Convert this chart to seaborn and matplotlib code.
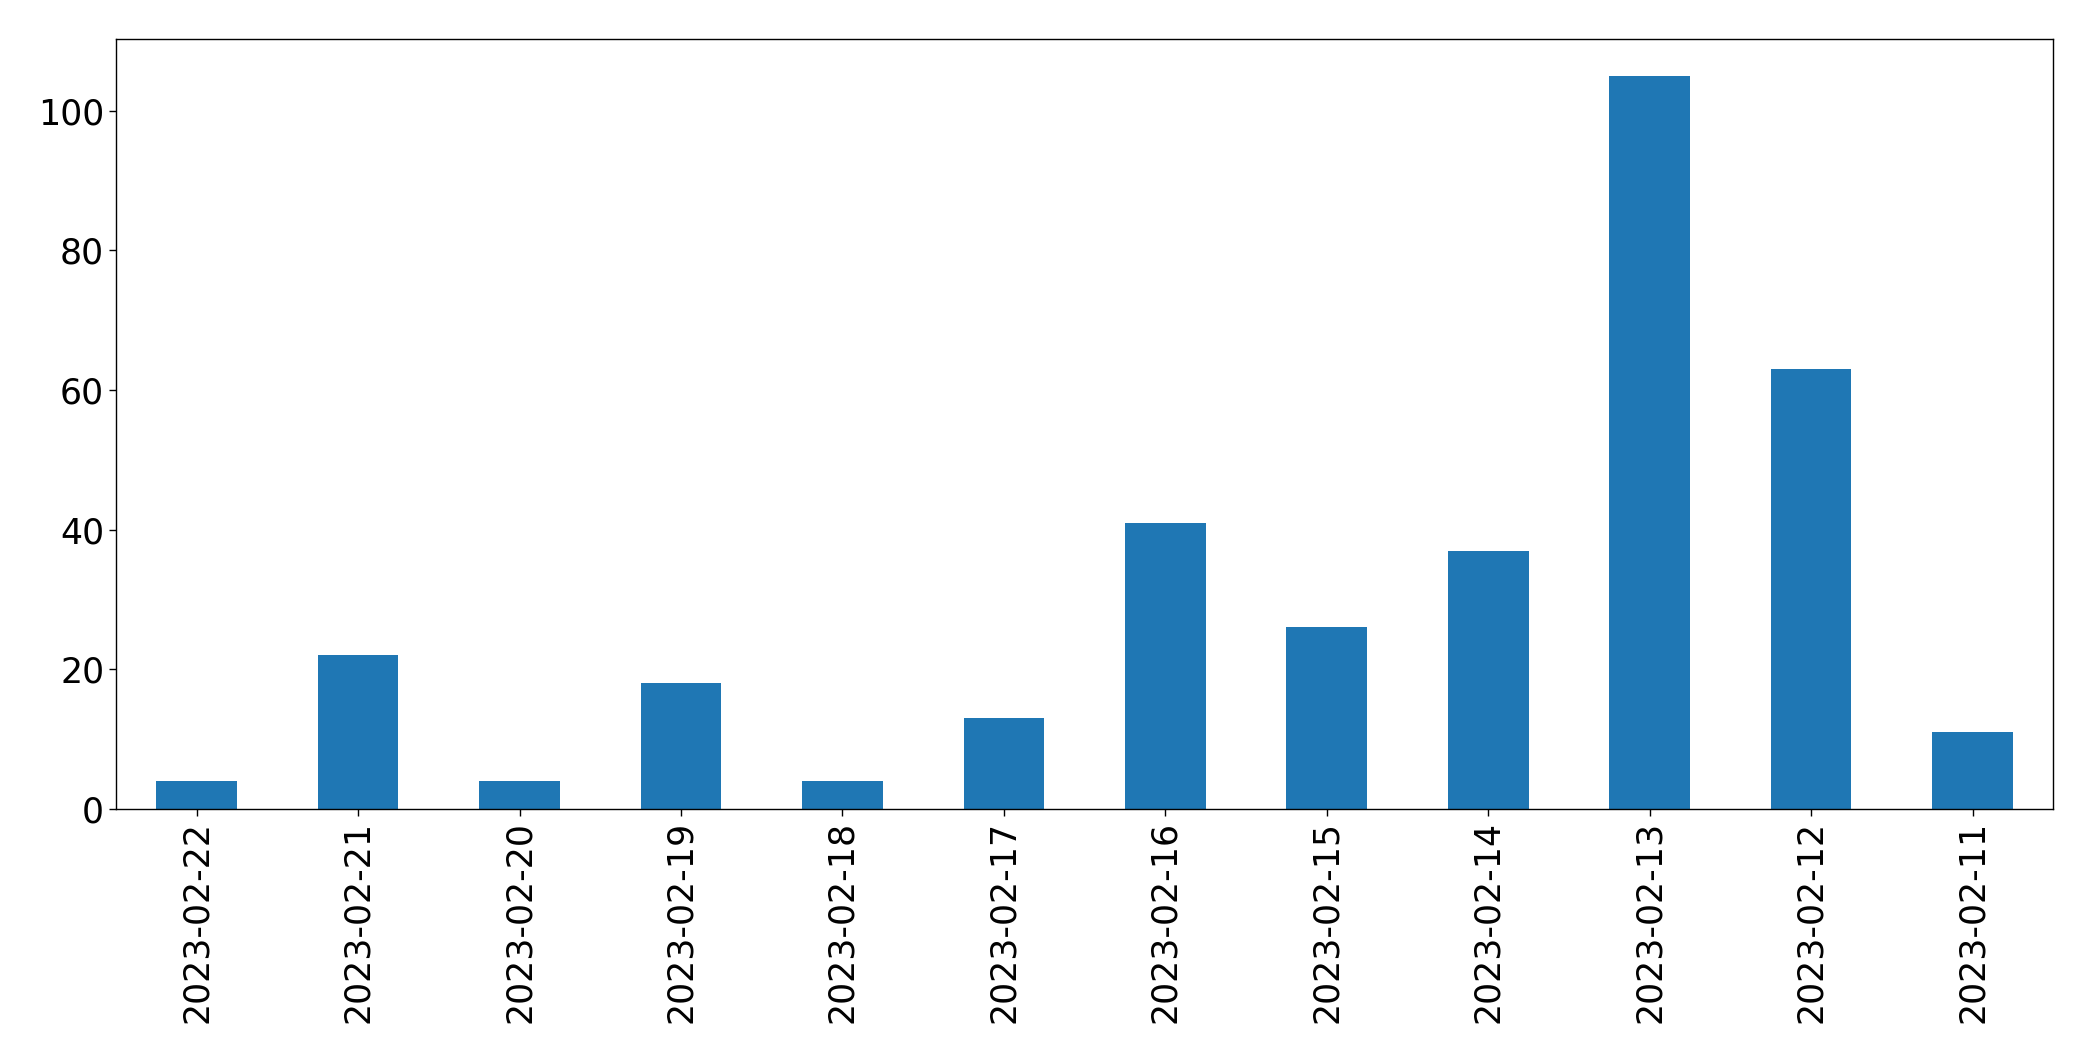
import pandas as pd
import seaborn as sns
import matplotlib
matplotlib.use('Agg')
import matplotlib.pyplot as plt

dates = ['2023-02-22', '2023-02-21', '2023-02-20', '2023-02-19', '2023-02-18', '2023-02-17',
         '2023-02-16', '2023-02-15', '2023-02-14', '2023-02-13', '2023-02-12', '2023-02-11']
counts = [4, 22, 4, 18, 4, 13, 41, 26, 37, 105, 63, 11]

df = pd.DataFrame({'date': dates, 'count': counts})

fig, ax = plt.subplots(figsize=(20.93, 10.61), dpi=100)
sns.barplot(data=df, x='date', y='count', color='#1f77b4', saturation=1, width=0.5, ax=ax)

ax.set_xlim(-0.5, len(dates) - 0.5)
ax.set_ylim(0, max(counts) * 1.05)
ax.set_xlabel('')
ax.set_ylabel('')
ax.tick_params(axis='both', labelsize=25, length=5, width=1)
for sp in ax.spines.values():
    sp.set_linewidth(1)
    sp.set_color('black')
plt.xticks(rotation=90)

fig.subplots_adjust(left=0.0554, right=0.981, top=0.9632, bottom=0.2375)
fig.savefig('out.png', dpi=100)
